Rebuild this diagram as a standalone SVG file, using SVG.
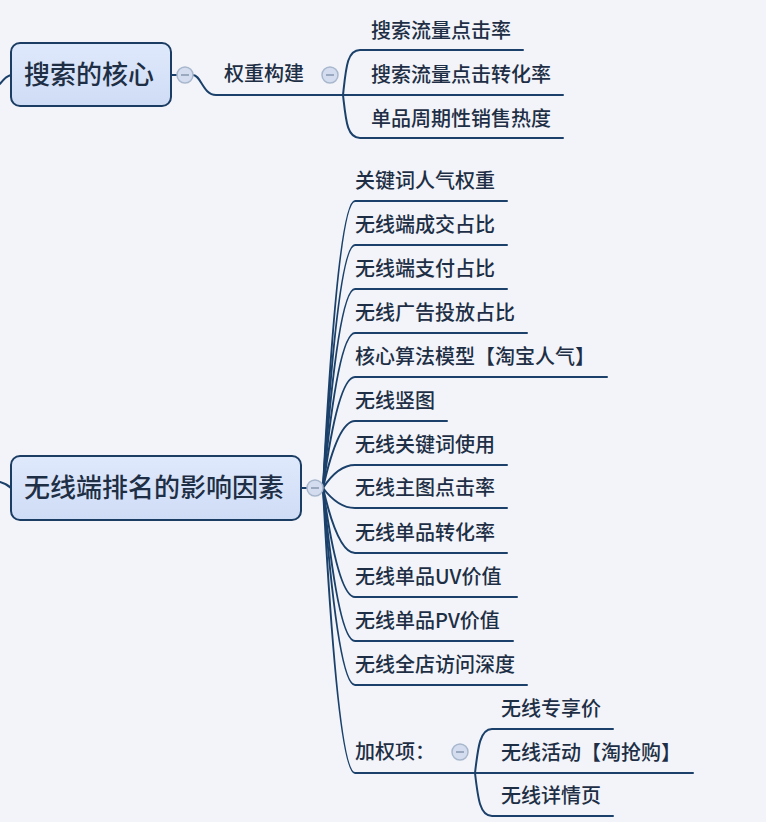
<svg xmlns="http://www.w3.org/2000/svg" width="766" height="822" viewBox="0 0 766 822">
<defs>
<linearGradient id="boxg" x1="0" y1="0" x2="0" y2="1">
<stop offset="0" stop-color="#dfe9fc"/>
<stop offset="1" stop-color="#cfdcf5"/>
</linearGradient>
<style>
.bg{fill:#f2f4f9}
.box{fill:url(#boxg);stroke:#1c3d63;stroke-width:2}
.main{font-family:"Noto Sans CJK SC","Noto Sans",sans-serif;font-size:26px;font-weight:500;fill:#1e2f45}
.t{font-family:"Noto Sans CJK SC","Noto Sans",sans-serif;font-size:20px;font-weight:500;fill:#1e2f45}
.ln{fill:none;stroke:#1b416b;stroke-width:2;stroke-linecap:round}
.cc{fill:#d3ddef;stroke:#a9b7cd;stroke-width:1.5}
.cm{stroke:#8796b0;stroke-width:1.5}
</style>
</defs>
<rect class="bg" x="0" y="0" width="766" height="822"/>

<g id="connectors">
<path class="ln" d="M0,84 Q6,76 11,75"/>
<path class="ln" d="M171,75 L177,75"/>
<path class="ln" d="M193,75 C201,75 203,95 216,95 L343,95"/>
<path class="ln" d="M343,95 C346,68 347,50 360,50 L523,50"/>
<path class="ln" d="M343,95 L563,95"/>
<path class="ln" d="M343,95 C346,121 347,138 360,138 L563,138"/>

<path class="ln" d="M0,482 Q7,484 11,488"/>
<path class="ln" d="M301,488 L307,488"/>
<path class="ln" d="M323,488 Q338,201 355,201 L507,201"/>
<path class="ln" d="M323,488 Q338,245 355,245 L507,245"/>
<path class="ln" d="M323,488 Q338,289 355,289 L507,289"/>
<path class="ln" d="M323,488 Q338,333 355,333 L527,333"/>
<path class="ln" d="M323,488 Q338,377 355,377 L607,377"/>
<path class="ln" d="M323,488 Q338,421 355,421 L447,421"/>
<path class="ln" d="M323,488 Q338,465 355,465 L507,465"/>
<path class="ln" d="M323,488 Q338,508 355,508 L507,508"/>
<path class="ln" d="M323,488 Q338,553 355,553 L507,553"/>
<path class="ln" d="M323,488 Q338,597 355,597 L517,597"/>
<path class="ln" d="M323,488 Q338,641 355,641 L513,641"/>
<path class="ln" d="M323,488 Q338,685 355,685 L527,685"/>
<path class="ln" d="M323,488 Q338,773 355,773 L475,773"/>

<path class="ln" d="M475,773 C478,747 480,729 492,729 L613,729"/>
<path class="ln" d="M475,773 L693,773"/>
<path class="ln" d="M475,773 C478,799 480,816 492,816 L613,816"/>
</g>

<g id="node-search-core">
<rect class="box" x="11" y="43" width="160" height="63" rx="9"/>
<text class="main" x="24" y="84">搜索的核心</text>
<circle class="cc" cx="185" cy="75" r="8"/>
<line class="cm" x1="181" y1="75" x2="189" y2="75"/>
</g>

<g id="node-weight">
<text class="t" x="224" y="81">权重构建</text>
<circle class="cc" cx="330" cy="75" r="8"/>
<line class="cm" x1="326" y1="75" x2="334" y2="75"/>
</g>
<g id="node-s1"><text class="t" x="371" y="38">搜索流量点击率</text></g>
<g id="node-s2"><text class="t" x="371" y="82">搜索流量点击转化率</text></g>
<g id="node-s3"><text class="t" x="371" y="126">单品周期性销售热度</text></g>

<g id="node-wireless">
<rect class="box" x="11" y="456" width="290" height="64" rx="9"/>
<text class="main" x="24" y="497">无线端排名的影响因素</text>
<circle class="cc" cx="315" cy="488" r="8"/>
<line class="cm" x1="311" y1="488" x2="319" y2="488"/>
</g>

<g id="node-w1"><text class="t" x="355" y="188">关键词人气权重</text></g>
<g id="node-w2"><text class="t" x="355" y="232">无线端成交占比</text></g>
<g id="node-w3"><text class="t" x="355" y="276">无线端支付占比</text></g>
<g id="node-w4"><text class="t" x="355" y="320">无线广告投放占比</text></g>
<g id="node-w5"><text class="t" x="355" y="364">核心算法模型【淘宝人气】</text></g>
<g id="node-w6"><text class="t" x="355" y="408">无线竖图</text></g>
<g id="node-w7"><text class="t" x="355" y="452">无线关键词使用</text></g>
<g id="node-w8"><text class="t" x="355" y="495">无线主图点击率</text></g>
<g id="node-w9"><text class="t" x="355" y="540">无线单品转化率</text></g>
<g id="node-w10"><text class="t" x="355" y="584">无线单品UV价值</text></g>
<g id="node-w11"><text class="t" x="355" y="628">无线单品PV价值</text></g>
<g id="node-w12"><text class="t" x="355" y="672">无线全店访问深度</text></g>

<g id="node-bonus">
<text class="t" x="355" y="759">加权项：</text>
<circle class="cc" cx="460" cy="752" r="8"/>
<line class="cm" x1="456" y1="752" x2="464" y2="752"/>
</g>
<g id="node-b1"><text class="t" x="501" y="716">无线专享价</text></g>
<g id="node-b2"><text class="t" x="501" y="760">无线活动【淘抢购】</text></g>
<g id="node-b3"><text class="t" x="501" y="803">无线详情页</text></g>
</svg>
